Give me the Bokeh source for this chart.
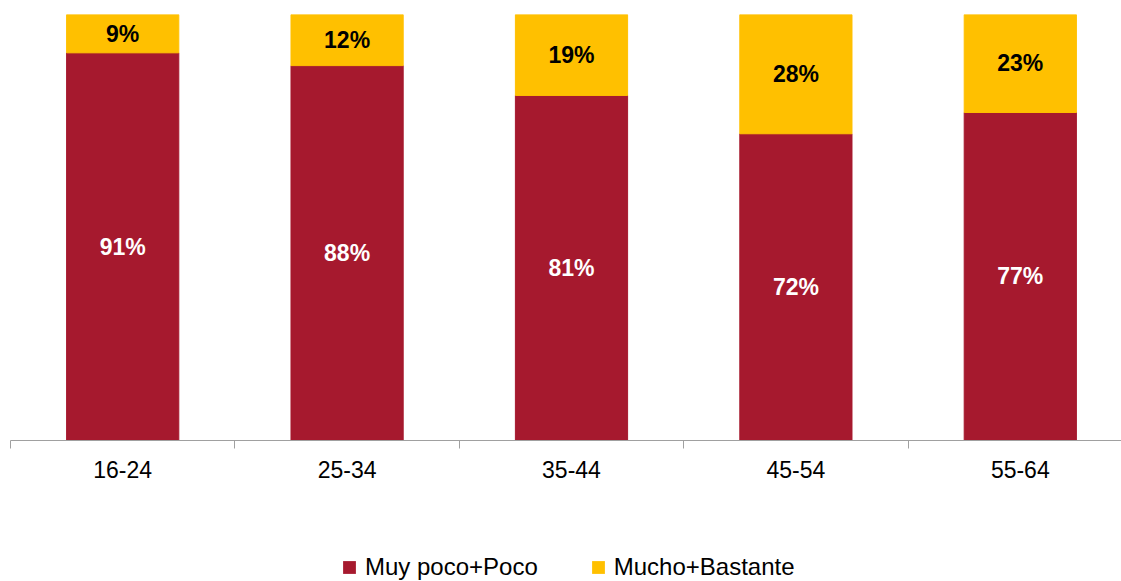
from bokeh.plotting import figure
from bokeh.models import Range1d, FixedTicker, Legend, LegendItem, ColumnDataSource
from bokeh.layouts import column
from bokeh.core.properties import value
from bokeh.embed import file_html
from bokeh.resources import INLINE

categories = ["16-24", "25-34", "35-44", "45-54", "55-64"]
poco = [91, 88, 81, 72, 77]
mucho = [9, 12, 19, 28, 23]
series_names = ["Muy poco+Poco", "Mucho+Bastante"]

RED = "#A6192E"
YELLOW = "#FFC000"
FONT = "Liberation Sans"

xs = [i + 0.5 for i in range(len(categories))]
src = ColumnDataSource(dict(
    x=xs,
    poco=poco,
    mucho=mucho,
    top2=[a + b for a, b in zip(poco, mucho)],
    ymid1=[a / 2 for a in poco],
    ymid2=[a + b / 2 for a, b in zip(poco, mucho)],
    lab1=[f"{v}%" for v in poco],
    lab2=[f"{v}%" for v in mucho],
))

p = figure(width=1121, height=500, output_backend="svg", toolbar_location=None,
           x_range=Range1d(0, 4.951), y_range=Range1d(0, 100),
           y_axis_location=None, min_border_left=10, min_border_right=0,
           min_border_top=14, min_border_bottom=60)
p.outline_line_color = None
p.xgrid.visible = False
p.ygrid.visible = False
p.background_fill_color = "white"
p.border_fill_color = "white"

r1 = p.vbar(x="x", bottom=0, top="poco", width=0.5, color=RED, source=src)
r2 = p.vbar(x="x", bottom="poco", top="top2", width=0.5, color=YELLOW, source=src)

p.text(x="x", y="ymid1", text="lab1", source=src, text_align="center",
       text_baseline="middle", text_color="white", text_font=value(FONT),
       text_font_style="bold", text_font_size="23px")
p.text(x="x", y="ymid2", text="lab2", source=src, text_align="center",
       text_baseline="middle", text_color="black", text_font=value(FONT),
       text_font_style="bold", text_font_size="23px")

ax = p.xaxis[0]
ax.ticker = FixedTicker(ticks=xs, minor_ticks=list(range(len(categories) + 1)))
ax.major_label_overrides = {x: c for x, c in zip(xs, categories)}
ax.major_tick_out = 0
ax.major_tick_in = 0
ax.minor_tick_out = 8
ax.minor_tick_in = 0
ax.minor_tick_line_color = "#A0A0A0"
ax.axis_line_color = "#A0A0A0"
ax.major_label_text_font = FONT
ax.major_label_text_font_size = "23px"
ax.major_label_text_color = "black"
ax.major_label_standoff = 12

# legend strip (zero-height proxy bars only supply the legend swatches)
p2 = figure(width=1121, height=81, output_backend="svg", toolbar_location=None,
            x_range=Range1d(0, 1), y_range=Range1d(0, 1),
            x_axis_location=None, y_axis_location=None,
            min_border_left=0, min_border_right=0, min_border_top=0, min_border_bottom=0)
p2.outline_line_color = None
p2.xgrid.visible = False
p2.ygrid.visible = False
l1 = p2.vbar(x=[0.5], bottom=[0], top=[0], width=0.1, fill_color=RED, line_color=None)
l2 = p2.vbar(x=[0.5], bottom=[0], top=[0], width=0.1, fill_color=YELLOW, line_color=None)
legend = Legend(items=[LegendItem(label=series_names[0], renderers=[l1]),
                       LegendItem(label=series_names[1], renderers=[l2])],
                orientation="horizontal", location=(331, 0),
                glyph_width=16, glyph_height=16, label_standoff=8, spacing=52,
                label_text_font=FONT, label_text_font_size="24px",
                label_text_color="black",
                padding=0, margin=0, border_line_color=None,
                background_fill_alpha=0)
p2.add_layout(legend, "center")

layout = column(p, p2, spacing=0)
open("out.html", "w").write(file_html(layout, INLINE))
